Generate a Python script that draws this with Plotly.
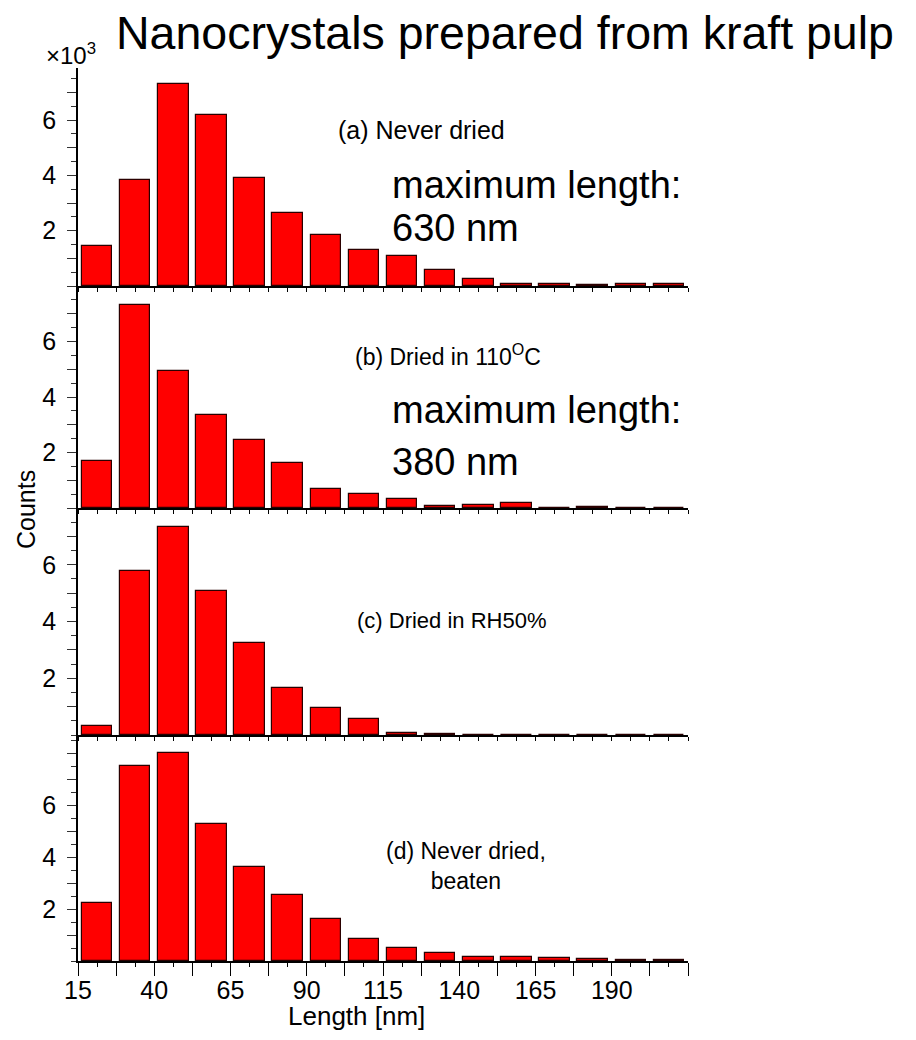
import plotly.graph_objects as go
from plotly.subplots import make_subplots

# ---------------- data ----------------
bin_centers = [21.25, 33.75, 46.25, 58.75, 71.25, 83.75, 96.25, 108.75,
               121.25, 133.75, 146.25, 158.75, 171.25, 183.75, 196.25, 208.75]
counts_a = [1460, 3830, 7290, 6170, 3910, 2630, 1830, 1300, 1080, 580, 240, 70, 60, 30, 60, 60]
counts_b = [1710, 7300, 4950, 3360, 2450, 1620, 680, 500, 320, 70, 100, 180, 0, 40, 0, 0]
counts_c = [320, 5790, 7330, 5090, 3260, 1640, 940, 570, 60, 50, 0, 0, 0, 0, 0, 0]
counts_d = [2230, 7490, 7990, 5280, 3610, 2540, 1610, 840, 490, 300, 170, 140, 100, 60, 40, 40]

x_major_ticks = [15, 27.5, 40, 52.5, 65, 77.5, 90, 102.5, 115, 127.5, 140, 152.5, 165, 177.5, 190, 202.5, 215]
x_tick_labels = ["15", "", "40", "", "65", "", "90", "", "115", "", "140", "", "165", "", "190", "", ""]
y_ticks = [1000, 2000, 3000, 4000, 5000, 6000, 7000, 8000]
y_tick_labels = ["", "2", "", "4", "", "6", "", ""]

panel_labels = ["(a) Never dried", "(b) Dried in 110<sup>O</sup>C",
                "(c) Dried in RH50%", "(d) Never dried,<br>beaten"]
y_tops = [7880, 8000, 8000, 8700]

FONT = "Liberation Sans, Arial, Helvetica, sans-serif"
OFF = 8                      # page body margin
W, H = 916 - 2 * OFF, 1040 - 2 * OFF
L, R, T, B = 78 - OFF, 688 - OFF, 68 - OFF, 961 - OFF   # plot area in figure pixels


def px(xs):
    return (xs - OFF - L) / (R - L)


def py(ys):
    return (B - (ys - OFF)) / (B - T)


bounds = [68, 286, 508, 735, 961]   # screen pixel rows of panel edges

fig = make_subplots(rows=4, cols=1, shared_xaxes=False, vertical_spacing=0)

series = [counts_a, counts_b, counts_c, counts_d]
for i, s in enumerate(series):
    fig.add_trace(go.Bar(x=bin_centers, y=s, width=10,
                         marker=dict(color="#FF0000", line=dict(color="#2a0000", width=1.2)),
                         showlegend=False), row=i + 1, col=1)

for i in range(4):
    r = i + 1
    last = (i == 3)
    fig.update_xaxes(row=r, col=1, range=[15, 215], domain=[0, 1],
                     showline=True, linecolor="black", linewidth=1.6,
                     showgrid=False, zeroline=False,
                     tickmode="array", tickvals=x_major_ticks,
                     ticktext=x_tick_labels if last else [""] * len(x_major_ticks),
                     showticklabels=last,
                     ticks="outside", ticklen=13 if last else 4, tickwidth=1.4, tickcolor="black",
                     ticklabelstandoff=-7 if last else 0,
                     tickfont=dict(family=FONT, size=25, color="black"),
                     minor=dict(ticks="outside", tick0=21.25, dtick=12.5,
                                ticklen=4, tickwidth=1.4, tickcolor="black", showgrid=False))
    fig.update_yaxes(row=r, col=1, range=[0, y_tops[i]],
                     domain=[py(bounds[i + 1]), py(bounds[i])],
                     showline=True, linecolor="black", linewidth=1.6,
                     showgrid=False, zeroline=False,
                     tickmode="array", tickvals=y_ticks, ticktext=y_tick_labels,
                     ticks="outside", ticklen=9, tickwidth=1.2, tickcolor="#333333",
                     ticklabelstandoff=6,
                     tickfont=dict(family=FONT, size=25, color="black"),
                     minor=dict(ticks="outside", dtick=500, ticklen=5, tickwidth=1.2,
                                tickcolor="#333333", showgrid=False))

ann = []


def add_text(text, xs, ys, size, xanchor="center", yanchor="middle", align="center"):
    ann.append(dict(text=text, x=px(xs), y=py(ys), xref="paper", yref="paper",
                    xanchor=xanchor, yanchor=yanchor, showarrow=False, align=align,
                    borderpad=0,
                    font=dict(family=FONT, size=size, color="black")))


add_text(panel_labels[0], 421, 130, 25)
add_text("maximum length:", 391, 185, 38, xanchor="left")
add_text("630 nm", 391, 228, 38, xanchor="left")
add_text(panel_labels[1], 448, 355, 23)
add_text("maximum length:", 391, 410, 38, xanchor="left")
add_text("380 nm", 391, 462, 38, xanchor="left")
add_text(panel_labels[2], 452, 620, 22)
add_text(panel_labels[3], 466, 866, 23)
add_text("×10<sup>3</sup>", 71, 54, 24)
add_text("Length [nm]", 356, 1016, 26)
add_text("Nanocrystals prepared from kraft pulp", 505, 33, 46.5)
ann.append(dict(text="Counts", x=px(26), y=py(510), xref="paper", yref="paper",
                xanchor="center", yanchor="middle", showarrow=False, textangle=-90,
                font=dict(family=FONT, size=25, color="black")))

fig.update_layout(width=W, height=H,
                  margin=dict(l=L, r=W - R, t=T, b=H - B, pad=0),
                  paper_bgcolor="white", plot_bgcolor="white",
                  bargap=0, annotations=ann, showlegend=False)

fig.write_html("out.html")
